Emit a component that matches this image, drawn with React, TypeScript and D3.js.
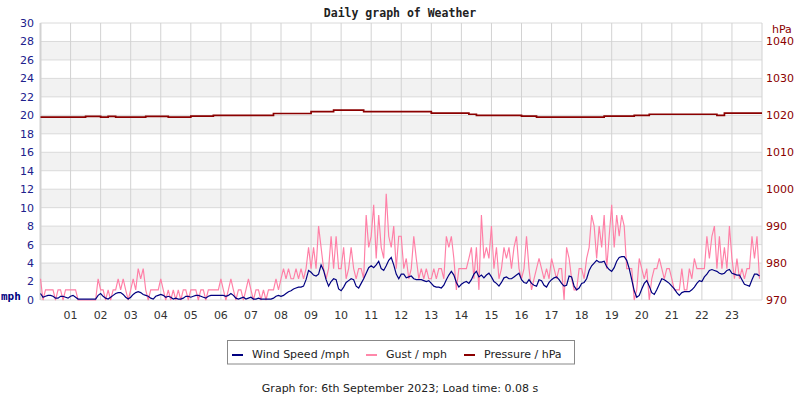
import React from "react";
import * as d3 from "d3";

const hourLabels = ["01","02","03","04","05","06","07","08","09","10","11","12","13","14","15","16","17","18","19","20","21","22","23"];
const mphTicks = [0,2,4,6,8,10,12,14,16,18,20,22,24,26,28,30];
const hpaTicks = [970,980,990,1000,1010,1020,1030,1040];

// 5-minute samples, 00:00 .. 23:55
const windSpeed = [
  0.7,0.3,0.4,0.5,0.5,0.4,0.2,0.2,0.4,0.4,0.3,0.2,
  0.4,0.5,0.3,0.1,0.1,0.1,0.1,0.1,0.1,0.1,0.1,0.5,
  0.7,0.4,0.2,0.1,0.3,0.5,0.7,0.8,0.8,0.6,0.3,0.1,
  0.3,0.6,0.8,0.9,0.8,0.6,0.5,0.4,0.2,0.1,0.4,0.5,
  0.6,0.5,0.3,0.4,0.3,0.1,0.2,0.1,0.1,0.2,0.4,0.4,
  0.3,0.4,0.5,0.5,0.4,0.3,0.2,0.4,0.5,0.5,0.5,0.5,
  0.5,0.5,0.4,0.5,0.7,0.5,0.2,0.1,0.2,0.3,0.1,0.2,
  0.3,0.1,0.1,0.2,0.1,0.1,0.1,0.1,0.1,0.2,0.4,0.5,
  0.4,0.5,0.7,0.9,1.0,1.2,1.3,1.4,1.4,1.5,2.2,3.2,
  3.0,2.7,2.6,2.8,3.8,3.2,2.2,1.5,2.0,2.3,2.2,1.2,
  1.0,1.4,1.9,2.1,2.3,2.2,1.5,1.3,1.8,2.3,2.9,3.5,
  3.7,3.5,3.8,4.2,3.4,3.2,3.7,4.3,4.6,3.8,2.8,2.3,
  2.8,2.8,2.4,2.5,2.6,2.3,2.2,2.2,2.2,2.1,2.0,2.1,
  1.8,1.5,1.4,1.4,1.3,1.6,2.2,2.7,3.1,2.7,1.9,1.4,
  1.7,1.9,2.0,1.8,2.2,2.8,3.1,2.5,2.7,2.4,2.7,2.9,
  2.5,2.0,1.8,1.5,1.9,2.4,2.5,2.3,2.3,2.5,2.7,2.9,
  2.2,1.9,1.8,2.2,1.8,1.6,1.5,2.2,2.1,1.6,1.4,1.9,
  2.2,2.4,2.5,2.2,1.8,1.5,1.6,2.6,2.5,1.5,1.1,1.3,
  1.8,1.9,2.3,3.2,3.7,4.0,4.3,4.1,4.1,4.2,3.6,3.3,
  3.1,3.5,4.2,4.6,4.7,4.7,4.3,3.4,2.2,1.0,0.3,0.5,
  1.2,1.8,2.1,1.5,0.8,0.6,1.1,1.7,2.3,2.2,2.0,1.8,
  1.5,1.2,0.8,0.5,0.8,0.9,0.9,0.9,1.1,1.4,1.8,2.1,
  2.0,2.5,2.8,3.2,3.3,3.2,3.1,2.9,2.8,2.9,3.2,3.3,
  2.9,2.8,2.7,2.7,2.2,1.7,1.6,1.5,2.2,2.8,2.8,2.6,
];

const gust = [
  2.3,0,1.1,1.1,1.1,1.1,0,1.1,1.1,0,1.1,1.1,
  1.1,1.1,1.1,0,0,0,0,0,0,0,0,2.3,
  1.1,1.1,0,1.1,0,1.1,1.1,2.3,1.1,2.3,1.1,0,
  1.1,2.3,1.1,3.4,2.3,3.4,1.1,0,1.1,1.1,1.1,1.1,
  2.3,1.1,0,1.1,0,1.1,0,1.1,0,1.1,1.1,0,
  1.1,1.1,1.1,0,1.1,1.1,0,1.1,1.1,1.1,1.1,1.1,
  2.3,1.1,0,1.1,2.3,1.1,0,1.1,1.1,0,1.1,2.3,
  1.1,0,1.1,1.1,0,1.1,0,1.1,1.1,1.1,2.3,1.1,
  2.3,3.4,2.3,3.4,2.3,2.3,3.4,2.3,3.4,2.3,3.4,5.7,
  3.4,5.7,3.4,8.0,5.7,3.4,2.3,3.4,6.9,3.4,6.9,3.4,
  3.4,5.7,2.3,3.4,5.7,3.4,2.3,3.4,3.4,2.3,9.2,5.7,
  6.9,10.3,4.5,9.2,5.7,4.5,11.5,6.9,5.7,8.0,3.4,6.9,
  6.9,3.4,4.5,2.3,3.4,6.9,4.5,2.3,3.4,2.3,3.4,2.3,
  2.3,3.4,2.3,3.4,3.4,2.3,6.9,5.7,6.9,4.5,1.1,3.4,
  3.4,3.4,3.4,4.5,5.7,2.3,5.7,1.1,9.2,4.5,5.7,4.5,
  8.0,3.4,5.7,2.3,3.4,5.7,4.5,5.7,3.4,5.7,6.9,3.4,
  2.3,3.4,6.9,3.4,1.1,2.3,3.4,4.5,3.4,2.3,3.4,2.3,
  4.5,3.4,2.3,3.4,3.4,0,5.7,4.5,2.3,1.1,1.1,3.4,
  3.4,2.3,4.5,5.7,9.2,8.0,4.5,8.0,5.7,9.2,3.4,6.9,
  10.3,5.7,9.2,6.9,9.2,8.0,3.4,3.4,3.4,0,1.1,4.5,
  3.4,2.3,3.4,0,2.3,3.4,3.4,4.5,3.4,2.3,3.4,3.4,
  2.3,1.1,1.1,1.1,3.4,1.1,1.1,3.4,2.3,4.5,3.4,3.4,
  3.4,3.4,6.9,4.5,6.9,8.0,3.4,6.9,3.4,5.7,3.4,8.0,
  4.5,2.3,4.5,2.3,3.4,2.3,3.4,3.4,6.9,4.5,6.9,2.3,
];

// 15-minute samples, 00:00 .. 24:00
const pressure = [
  1019.5,1019.5,1019.5,1019.5,1019.5,1019.5,1019.7,1019.7,
  1019.5,1019.7,1019.5,1019.5,1019.5,1019.5,1019.7,1019.7,
  1019.7,1019.5,1019.5,1019.5,1019.8,1019.8,1019.8,1020.0,
  1020.0,1020.0,1020.0,1020.0,1020.0,1020.0,1020.0,1020.5,
  1020.5,1020.5,1020.5,1020.5,1021.0,1021.0,1021.0,1021.4,
  1021.4,1021.4,1021.4,1021.0,1021.0,1021.0,1021.0,1021.0,
  1021.0,1021.0,1021.0,1021.0,1020.6,1020.6,1020.6,1020.6,
  1020.6,1020.3,1020.0,1020.0,1020.0,1020.0,1020.0,1020.0,
  1019.8,1019.8,1019.5,1019.5,1019.5,1019.5,1019.5,1019.5,
  1019.5,1019.5,1019.5,1019.8,1019.8,1019.8,1019.8,1020.0,
  1020.0,1020.3,1020.3,1020.3,1020.3,1020.3,1020.3,1020.3,
  1020.3,1020.3,1020.0,1020.6,1020.6,1020.6,1020.6,1020.6,
  1020.6,
];

const legendItems = [
  { label: "Wind Speed /mph", color: "#000080" },
  { label: "Gust / mph", color: "#ff88aa" },
  { label: "Pressure / hPa", color: "#8b0000" },
];

const W = 800, H = 400;
const L = 40.5, R = 762, T = 23, B = 300;

export default function App() {
  const x = d3.scaleLinear().domain([0, 24]).range([L, R]);
  const y = d3.scaleLinear().domain([0, 30]).range([B, T]);
  const yp = d3.scaleLinear().domain([970, 1045]).range([B, T]);

  const windLine = d3.line<number>().x((_, i) => x(i / 12)).y((d) => y(d));
  const pLine = d3.line<number>().x((_, i) => x(i / 4)).y((d) => yp(d)).curve(d3.curveStepAfter);

  const bands = mphTicks.filter((t) => t % 4 === 2 && t < 30);
  const font = "'DejaVu Sans', sans-serif";
  const mono = "'DejaVu Sans Mono', monospace";

  const legendX = [232, 366, 464];

  return (
    <svg width={W} height={H} style={{ position: "absolute", left: 0, top: 0, background: "#fff" }}>
      <text x={400} y={17} textAnchor="middle" fontFamily={mono} fontWeight="bold" fontSize={11.5} fill="#222">
        Daily graph of Weather
      </text>
      {bands.map((b) => (
        <rect key={b} x={L} y={y(b + 2)} width={R - L} height={y(b) - y(b + 2)} fill="#f2f2f2" />
      ))}
      {mphTicks.map((t) => (
        <line key={"h" + t} x1={L} x2={R} y1={y(t)} y2={y(t)} stroke="#dadada" strokeWidth={1} />
      ))}
      {d3.range(0, 25).map((h) => (
        <line key={"v" + h} x1={x(h)} x2={x(h)} y1={T} y2={B} stroke="#d2d2d2" strokeWidth={h === 0 ? 2 : 1} />
      ))}
      <path d={windLine(gust) || ""} fill="none" stroke="#ff7fa6" strokeWidth={1.15} />
      <path d={windLine(windSpeed) || ""} fill="none" stroke="#000080" strokeWidth={1.2} />
      <path d={pLine(pressure) || ""} fill="none" stroke="#8b0000" strokeWidth={1.7} />
      {mphTicks.map((t) => (
        <text key={"l" + t} x={34} y={y(t)} dy="0.36em" textAnchor="end" fontFamily={font} fontSize={11} fill="#20208c">
          {t}
        </text>
      ))}
      <text x={1} y={B - 4} dy="0.36em" fontFamily={mono} fontWeight="bold" fontSize={11} fill="#000080">mph</text>
      {hpaTicks.map((t) => (
        <text key={"r" + t} x={766} y={yp(t)} dy="0.36em" fontFamily={font} fontSize={11} fill="#8b0000">
          {t}
        </text>
      ))}
      <text x={772} y={29} dy="0.36em" fontFamily={font} fontSize={11} fill="#8b0000">hPa</text>
      {hourLabels.map((lb, i) => (
        <text key={lb} x={x(i + 1)} y={315} dy="0.36em" textAnchor="middle" fontFamily={font} fontSize={11} fill="#333">
          {lb}
        </text>
      ))}
      <rect x={227.5} y={340.5} width={347} height={23.5} fill="#fff" stroke="#888" strokeWidth={1} />
      {legendItems.map((it, i) => (
        <g key={it.label}>
          <line x1={legendX[i]} x2={legendX[i] + 11} y1={355} y2={355} stroke={it.color} strokeWidth={2} />
          <text x={legendX[i] + 20} y={354} dy="0.36em" fontFamily={font} fontSize={11} fill="#222">
            {it.label}
          </text>
        </g>
      ))}
      <text x={400} y={388} dy="0.36em" textAnchor="middle" fontFamily={font} fontSize={11} fill="#222">
        Graph for: 6th September 2023; Load time: 0.08 s
      </text>
    </svg>
  );
}
